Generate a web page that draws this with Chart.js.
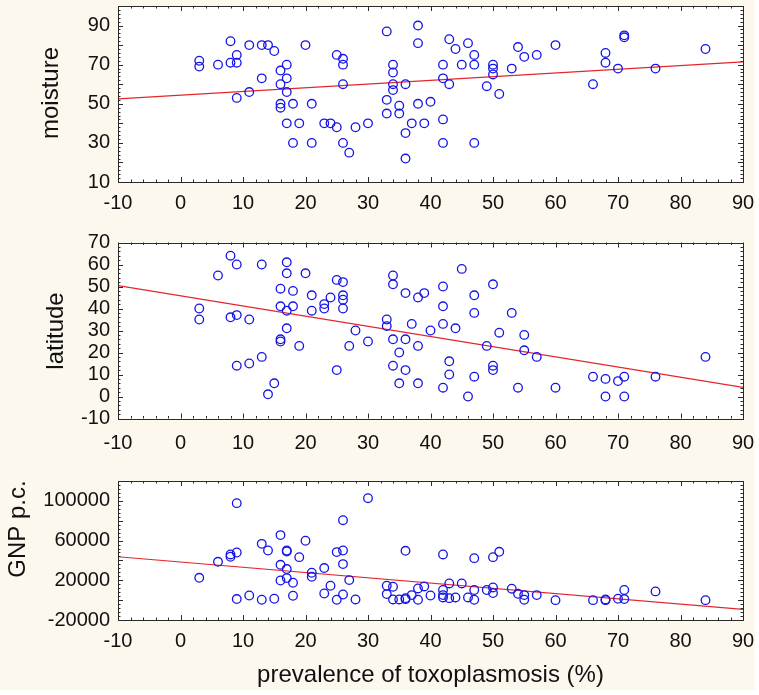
<!DOCTYPE html>
<html>
<head>
<meta charset="utf-8">
<script src="https://cdn.jsdelivr.net/npm/chart.js@4"></script>
<style>
  html, body { margin: 0; padding: 0; background: #ffffff; overflow: hidden; }
  #wrap { position: relative; width: 759px; height: 695px; overflow: hidden; }
  #bg { position: absolute; left: 0; top: 0; width: 755px; height: 690px; background: #fdf8ee; }
  canvas { position: absolute; left: 0; top: -30px; }
</style>
</head>
<body>
<div id="wrap">
  <div id="bg"></div>
  <canvas id="c1" width="759" height="725"></canvas>
  <canvas id="c2" width="759" height="725"></canvas>
  <canvas id="c3" width="759" height="725"></canvas>
</div>
<script>
const xTicks = [-10, 0, 10, 20, 30, 40, 50, 60, 70, 80, 90];

// moisture vs prevalence
const moistureX = [3, 3, 6, 8, 8, 9, 9, 9, 11, 11, 13, 13, 14, 15, 17, 16, 17, 16, 17, 16, 16, 18, 17, 18, 19, 20, 21, 21, 23, 24, 25, 25, 26, 26, 26, 26, 27, 28, 30,
  33, 33, 33, 34, 34, 34, 34, 35, 35, 36, 36, 36, 37, 38, 38, 38, 39, 40, 42, 42, 42, 42, 43, 43, 44, 45, 46, 47, 47, 47, 49, 50, 50, 50, 51, 53, 54, 55, 57, 60, 66, 68, 68, 70, 71, 71, 76, 84];
const moistureY = [72, 69, 70, 82, 71, 75, 71, 53, 80, 56, 80, 63, 80, 77, 70, 67, 63, 60, 56, 50, 48, 50, 40, 30, 40, 80, 50, 30, 40, 40, 75, 38, 73, 70, 60, 30, 25, 38, 40,
  87, 52, 45, 70, 66, 60, 57, 49, 45, 60, 35, 22, 40, 90, 81, 50, 40, 51, 70, 63, 42, 30, 83, 60, 78, 70, 81, 75, 70, 30, 59, 70, 68, 65, 55, 68, 79, 74, 75, 80, 60, 76, 71, 68, 85, 84, 68, 78];
const moistureFit = [52.5, 71.4];

// latitude vs prevalence
const latitudeX = [3, 3, 6, 8, 8, 9, 9, 9, 11, 11, 13, 13, 14, 15, 16, 16, 16, 16, 17, 17, 17, 17, 18, 18, 19, 20, 21, 21, 23, 23, 24, 25, 25, 26, 26, 26, 26, 27, 28, 30,
  33, 33, 34, 34, 34, 34, 35, 35, 36, 36, 36, 37, 38, 38, 38, 39, 40, 42, 42, 42, 42, 43, 43, 44, 45, 46, 47, 47, 47, 49, 50, 50, 50, 51, 53, 54, 55, 55, 57, 60, 66, 68, 68, 70, 71, 71, 76, 84];
const latitudeY = [40, 35, 55, 64, 36, 60, 37, 14, 35, 15, 60, 18, 1, 6, 49, 41, 26, 25, 61, 56, 39, 31, 48, 41, 23, 56, 46, 39, 42, 40, 45, 53, 12, 52, 46, 44, 40, 23, 30, 25,
  35, 32, 55, 51, 26, 14, 20, 6, 47, 26, 12, 33, 45, 23, 6, 47, 30, 50, 41, 33, 4, 16, 10, 31, 58, 0, 46, 38, 9, 23, 51, 14, 12, 29, 38, 4, 28, 21, 18, 4, 9, 8, 0, 7, 9, 0, 9, 18];
const latitudeFit = [50.4, 4.1];

// GNP per capita vs prevalence
const gnpX = [3, 6, 8, 8, 9, 9, 9, 11, 13, 13, 14, 15, 16, 16, 16, 17, 17, 17, 17, 18, 18, 19, 20, 21, 21, 23, 23, 24, 25, 25, 26, 26, 26, 26, 27, 28, 30,
  33, 33, 34, 34, 35, 36, 36, 36, 37, 38, 38, 39, 40, 42, 42, 42, 42, 43, 43, 44, 45, 46, 47, 47, 47, 49, 50, 50, 50, 51, 53, 54, 55, 55, 57, 60, 66, 68, 68, 70, 71, 71, 76, 84];
const gnpY = [22500, 38600, 46000, 43700, 97700, 48000, 1100, 4700, 56700, 400, 50000, 1400, 65500, 35600, 19800, 50000, 49000, 31300, 22200, 17500, 4400, 43300, 59800, 27600, 23500, 32300, 6700, 14500, 48400, 400, 80500, 50000, 36300, 5700, 20200, 700, 102700,
  14500, 6100, 13500, 700, 700, 49700, 2000, 1000, 5100, 11800, 400, 13800, 4700, 46000, 10200, 5100, 2700, 16800, 2000, 2700, 16800, 2700, 42300, 10200, 400, 10200, 43300, 12800, 7100, 48700, 11500, 6400, 5100, 400, 5100, 0, 0, 700, 0, 1400, 10200, 1100, 8800, 0];
const gnpFit = [43700, -9300];

const FONT = '"Liberation Sans", Arial, sans-serif';
const TEXT = '#111111';
const OFF = 30; // canvases start 30px above the page so the top padding is never clamped
const CH = 725;
const PLOT_LEFT = 118;
const PLOT_RIGHT = 743;

// white plot area, frame with inward ticks, axis titles
const framePlugin = {
  id: 'frame',
  beforeDraw(chart) {
    const a = chart.chartArea;
    const ctx = chart.ctx;
    ctx.save();
    ctx.fillStyle = '#ffffff';
    ctx.fillRect(a.left, a.top, a.right - a.left, a.bottom - a.top);
    ctx.restore();
  },
  afterDraw(chart, args, opts) {
    const { ctx, chartArea: a, scales: { x, y } } = chart;
    ctx.save();
    ctx.strokeStyle = '#2a2a2a';
    ctx.lineWidth = 1;
    ctx.beginPath();
    const nx = Math.round((x.max - x.min) / opts.xMinor);
    for (let i = 0; i <= nx; i++) {
      const v = x.min + i * opts.xMinor;
      const px = Math.round(x.getPixelForValue(v)) + 0.5;
      const len = (i % opts.xEvery === 0) ? 5 : 2.5;
      ctx.moveTo(px, a.top); ctx.lineTo(px, a.top + len);
      ctx.moveTo(px, a.bottom); ctx.lineTo(px, a.bottom - len);
    }
    const ny = Math.round((y.max - y.min) / opts.yMinor);
    for (let i = 0; i <= ny; i++) {
      const v = y.min + i * opts.yMinor;
      const py = Math.round(y.getPixelForValue(v)) + 0.5;
      const len = (i % opts.yEvery === 0) ? 5 : 2.5;
      ctx.moveTo(a.left, py); ctx.lineTo(a.left + len, py);
      ctx.moveTo(a.right, py); ctx.lineTo(a.right - len, py);
    }
    ctx.stroke();
    ctx.strokeRect(Math.round(a.left) + 0.5, Math.round(a.top) + 0.5,
      Math.round(a.right - a.left), Math.round(a.bottom - a.top));

    ctx.fillStyle = TEXT;
    ctx.font = '24px ' + FONT;
    ctx.textAlign = 'center';
    ctx.textBaseline = 'alphabetic';
    ctx.save();
    ctx.translate(opts.yTitle.x, opts.yTitle.y + OFF);
    ctx.rotate(-Math.PI / 2);
    ctx.fillText(opts.yTitle.text, 0, 0);
    ctx.restore();
    if (opts.xTitle) {
      ctx.fillText(opts.xTitle.text, opts.xTitle.x, opts.xTitle.y + OFF);
    }
    ctx.restore();
  }
};

function makePanel(id, xs, ys, fit, cfg) {
  const points = xs.map((v, i) => ({ x: v, y: ys[i] }));
  const line = [{ x: xTicks[0], y: fit[0] }, { x: xTicks[xTicks.length - 1], y: fit[1] }];
  const chart = new Chart(document.getElementById(id), {
    type: 'scatter',
    data: {
      datasets: [
        {
          type: 'line',
          data: line,
          borderColor: '#e3262b',
          borderWidth: 1.2,
          pointRadius: 0,
          fill: false,
          order: 2
        },
        {
          data: points,
          pointStyle: 'circle',
          pointRadius: 4.3,
          borderWidth: 1.3,
          borderColor: '#1414e6',
          backgroundColor: 'rgba(0,0,0,0)',
          order: 1
        }
      ]
    },
    options: {
      responsive: false,
      animation: false,
      events: [],
      layout: { padding: { top: cfg.top + OFF, right: 759 - PLOT_RIGHT, left: 0, bottom: CH - (cfg.bottom + OFF) - 40 } },
      plugins: {
        legend: { display: false },
        tooltip: { enabled: false },
        frame: cfg.frame
      },
      scales: {
        x: {
          type: 'linear',
          min: -10,
          max: 90,
          afterFit: (s) => { s.height = 40; },
          grid: { display: false, drawTicks: false },
          border: { display: false },
          ticks: {
            stepSize: 10,
            autoSkip: false,
            maxRotation: 0,
            padding: 0,
            color: TEXT,
            // the gap below the frame comes from the line height, so the
            // tick padding does not eat into the right edge of the plot
            font: { family: FONT, size: 20, lineHeight: (24 + 2 * cfg.xPad) / 20 }
          }
        },
        y: {
          type: 'linear',
          min: cfg.yMin,
          max: cfg.yMax,
          afterFit: (s) => { s.width = PLOT_LEFT; },
          grid: { display: false, drawTicks: false },
          border: { display: false },
          ticks: {
            stepSize: cfg.yStep,
            autoSkip: false,
            padding: 8,
            color: TEXT,
            font: { family: FONT, size: 20 },
            callback: (v) => ((v - cfg.yMin) % cfg.yLabelEvery === 0 ? String(v) : '')
          }
        }
      }
    },
    plugins: [framePlugin]
  });

  // nudge the layout padding until the plot area sits where the reference has it
  for (let k = 0; k < 4; k++) {
    const a = chart.chartArea;
    const pad = chart.options.layout.padding;
    const dr = a.right - PLOT_RIGHT;
    const dt = (cfg.top + OFF) - a.top;
    const db = a.bottom - (cfg.bottom + OFF);
    if (Math.abs(dr) < 0.2 && Math.abs(dt) < 0.2 && Math.abs(db) < 0.2) break;
    pad.right += dr;
    pad.top += dt;
    pad.bottom += db;
    chart.update('none');
  }
  return chart;
}

makePanel('c1', moistureX, moistureY, moistureFit, {
  top: 6, bottom: 182, xPad: 9,
  yMin: 10, yMax: 100, yStep: 10, yLabelEvery: 20,
  frame: { xMinor: 2, xEvery: 5, yMinor: 2, yEvery: 5,
    yTitle: { text: 'moisture', x: 58, y: 93 } }
});

makePanel('c2', latitudeX, latitudeY, latitudeFit, {
  top: 242.5, bottom: 418.5, xPad: 13,
  yMin: -10, yMax: 70, yStep: 10, yLabelEvery: 10,
  frame: { xMinor: 2, xEvery: 5, yMinor: 2, yEvery: 5,
    yTitle: { text: 'latitude', x: 63, y: 331 } }
});

makePanel('c3', gnpX, gnpY, gnpFit, {
  top: 481, bottom: 620, xPad: 9,
  yMin: -20000, yMax: 120000, yStep: 20000, yLabelEvery: 40000,
  frame: { xMinor: 2, xEvery: 5, yMinor: 4000, yEvery: 5,
    yTitle: { text: 'GNP p.c.', x: 25, y: 529 },
    xTitle: { text: 'prevalence of toxoplasmosis (%)', x: 430.5, y: 682 } }
});
</script>
</body>
</html>
